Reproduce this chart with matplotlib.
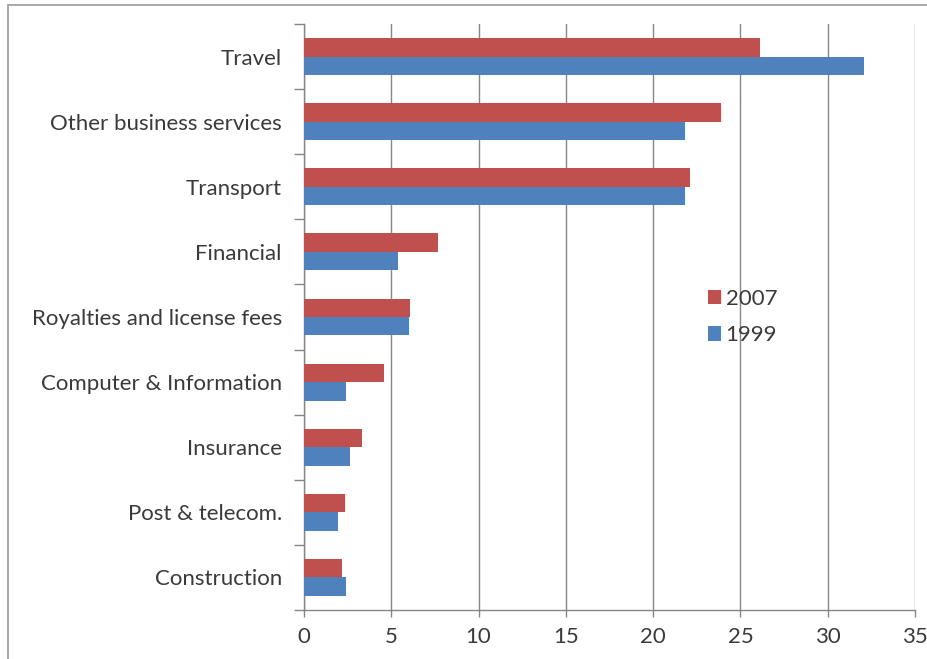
import matplotlib
matplotlib.use("Agg")
import matplotlib.pyplot as plt
import numpy as np
from matplotlib.patches import Rectangle
from matplotlib.ticker import FixedLocator

categories = ["Travel", "Other business services", "Transport", "Financial",
              "Royalties and license fees", "Computer & Information",
              "Insurance", "Post & telecom.", "Construction"]
values_2007 = [26.1, 23.9, 22.1, 7.7, 6.1, 4.6, 3.3, 2.35, 2.2]
values_1999 = [32.1, 21.8, 21.8, 5.4, 6.0, 2.4, 2.65, 1.95, 2.4]
x_ticks = [0, 5, 10, 15, 20, 25, 30, 35]

RED = "#C0504D"
BLUE = "#4F81BD"
GRID = "#868686"
TEXT = "#3a3a3a"

plt.rcParams["font.family"] = ["Lato", "DejaVu Sans"]

fig = plt.figure(figsize=(9.28, 6.59), dpi=100)
ax = fig.add_axes([304 / 928, (659 - 610) / 659, 611 / 928, 586 / 659])

# outer chart-area frame (top and left edges visible)
fig.patches.append(Rectangle((8 / 928, -0.05), 1.2, (659 - 5) / 659 + 0.05,
                             transform=fig.transFigure, fill=False,
                             edgecolor="#9a9a9a", linewidth=1.2, zorder=0))

y = np.arange(len(categories))
h = 0.284
ax.barh(y - h / 2, values_2007, height=h, color=RED, label="2007", zorder=3)
ax.barh(y + h / 2, values_1999, height=h, color=BLUE, label="1999", zorder=3)

ax.set_ylim(len(categories) - 0.5, -0.5)
ax.set_xlim(0, 35)
ax.set_xticks(x_ticks)
ax.set_xticklabels([str(t) for t in x_ticks], fontsize=16, color=TEXT)
ax.set_yticks(y)
ax.set_yticklabels(categories, fontsize=16, color=TEXT)
ax.yaxis.set_minor_locator(FixedLocator(np.arange(-0.5, len(categories), 1.0)))

ax.tick_params(axis="y", which="major", length=0, pad=16)
ax.tick_params(axis="y", which="minor", length=7, width=1, color=GRID)
ax.tick_params(axis="x", which="major", length=5, width=1, color=GRID, pad=7)

ax.grid(axis="x", color=GRID, linewidth=1, zorder=0)
ax.set_axisbelow(True)
for side in ("top", "right"):
    ax.spines[side].set_visible(False)
for side in ("left", "bottom"):
    ax.spines[side].set_color(GRID)
    ax.spines[side].set_linewidth(1)

leg = ax.legend(loc="center left", bbox_to_anchor=(0.661, 0.500), frameon=False,
                fontsize=16, handlelength=0.6, handleheight=0.6,
                handletextpad=0.2, labelspacing=0.75, borderpad=0,
                borderaxespad=0)
for t in leg.get_texts():
    t.set_color(TEXT)

fig.savefig("out.png", dpi=100, facecolor="white")
